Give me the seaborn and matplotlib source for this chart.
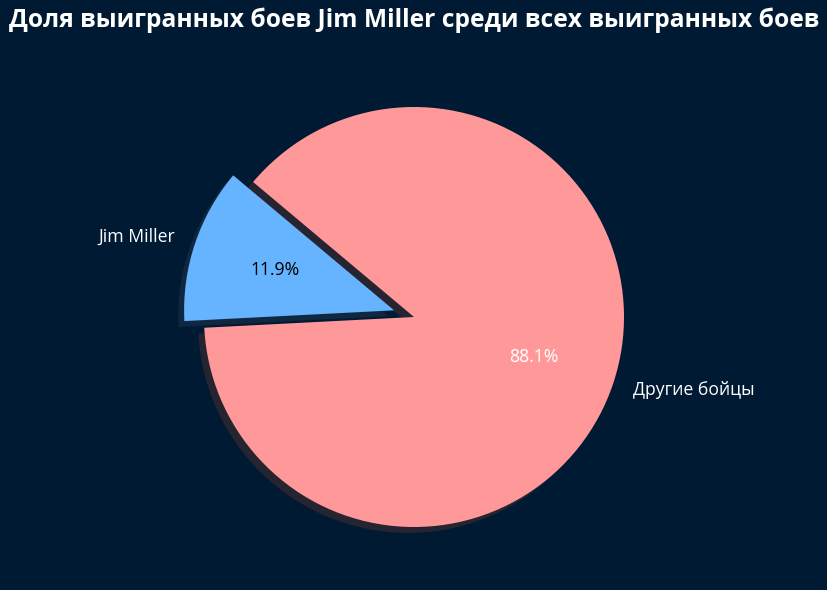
import matplotlib
matplotlib.use("Agg")
import matplotlib.pyplot as plt
import seaborn as sns

labels = ["Jim Miller", "Другие бойцы"]
wins = [26, 192]
colors = ["#66b3ff", "#ff9999"]
explode = [0.1, 0]

sns.set_theme(style="dark")
plt.rcParams['font.family'] = ['Open Sans', 'DejaVu Sans']

bg = "#001a33"
fig = plt.figure(figsize=(8.28, 5.9), dpi=100)
fig.patch.set_facecolor(bg)
ax = fig.add_axes([0, 10.5 / 590, 1, 525 / 590])
ax.set_facecolor(bg)

wedges, texts, autotexts = ax.pie(
    wins, labels=labels, colors=colors, explode=explode,
    autopct="%1.1f%%", startangle=140, shadow=True,
    wedgeprops={"linewidth": 0},
    textprops={"color": "white", "fontsize": 12.7},
)
autotexts[0].set_color("black")
ax.set_title("Доля выигранных боев Jim Miller среди всех выигранных боев",
             color="white", fontsize=17.7, fontweight="bold", pad=20)
plt.savefig("out.png", facecolor=bg)
plt.close()
